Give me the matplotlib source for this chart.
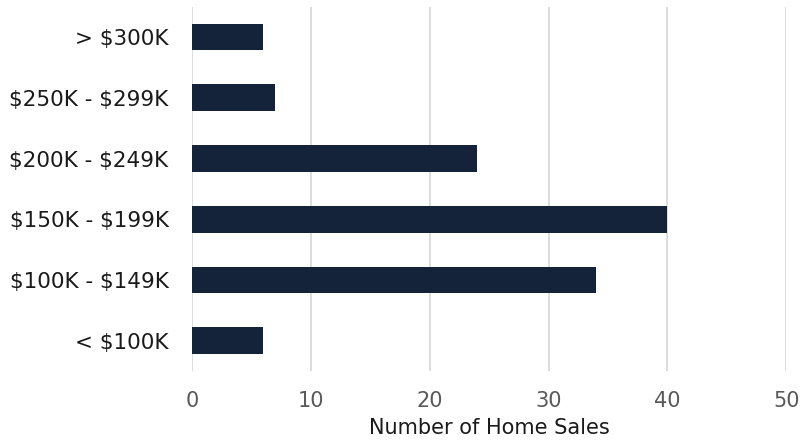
import matplotlib
matplotlib.use('Agg')
import matplotlib.pyplot as plt

plt.rcParams['font.family'] = ['DejaVu Sans']
plt.rcParams['text.parse_math'] = False

categories = ['< $100K', '$100K - $149K', '$150K - $199K',
              '$200K - $249K', '$250K - $299K', '> $300K']
sales = [6, 34, 40, 24, 7, 6]
xticks = [0, 10, 20, 30, 40, 50]

fig = plt.figure(figsize=(8.04, 4.44), dpi=100)
ax = fig.add_axes([0.239, 0.164, 0.739, 0.821])

ax.barh(categories, sales, height=0.44, color='#14223a', zorder=3)

ax.set_xlim(0, 50)
ax.set_ylim(-0.5, len(categories) - 0.5)
ax.set_xticks(xticks)
ax.grid(axis='x', color='#d9d9d9', linewidth=1.3, zorder=0)
ax.grid(axis='y', visible=False)
for s in ax.spines.values():
    s.set_visible(False)
ax.tick_params(axis='both', length=0)
ax.tick_params(axis='x', labelsize=15, labelcolor='#595959', pad=14)
ax.tick_params(axis='y', labelsize=15.5, labelcolor='#1a1a1a', pad=17)
ax.set_xlabel('Number of Home Sales', fontsize=15, color='#1a1a1a', labelpad=5)

fig.savefig('out.png', dpi=100, facecolor='w')
